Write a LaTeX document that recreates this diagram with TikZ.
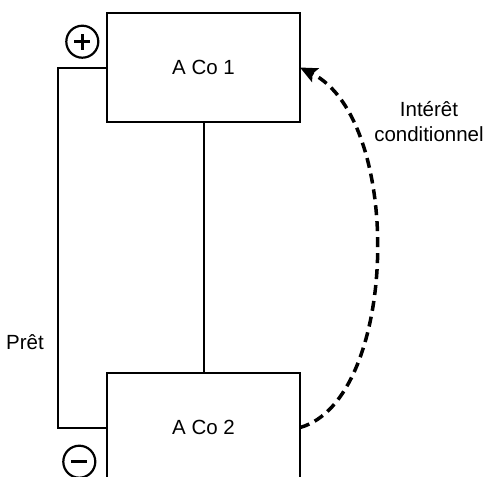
\documentclass[tikz,border=0pt]{standalone}
\usepackage{fontspec}
\setmainfont{Liberation Sans}
\usetikzlibrary{arrows.meta}
\begin{document}
\begin{tikzpicture}[x=1pt,y=-1pt,
  cobox/.style={draw, line width=2.5pt, minimum width=193pt, minimum height=109pt, inner sep=0pt, outer sep=0pt, font=\fontsize{20.5}{24}\selectfont},
  link/.style={line width=2pt},
  sign/.style={circle, draw, line width=2.2pt, minimum size=32pt, inner sep=0pt},
  lbl/.style={font=\fontsize{20.5}{25}\selectfont, align=center, inner sep=0pt},
  condarrow/.style={line width=3.5pt, dash pattern=on 10pt off 6pt, -{Stealth[length=17pt,width=15pt,inset=3pt]}}
]
\useasboundingbox (0,0) rectangle (488,477);
\clip (0,0) rectangle (488,477);
\node[cobox] (box1) at (203.5,67.5) {A Co 1};
\node[cobox] (box2) at (203.5,427.5) {A Co 2};
\draw[link] (box1.south) -- (box2.north);
\coordinate (loopl) at (58,67.5);
\draw[link] (box1.west) -- (loopl) |- (box2.west);
\draw[condarrow] (box2.east) .. controls (398,400) and (405,120) .. (box1.east);
\node[sign] (plus) at (82.3,41.7) {};
\draw[line width=2.5pt] ([xshift=-8pt]plus.center) -- ([xshift=8pt]plus.center);
\draw[line width=2.5pt] ([yshift=-8pt]plus.center) -- ([yshift=8pt]plus.center);
\node[sign] (minus) at (79.3,461.7) {};
\draw[line width=2.5pt] ([xshift=-8pt]minus.center) -- ([xshift=8pt]minus.center);
\node[lbl] (pret) at (25,342) {Prêt};
\node[lbl] (interet) at (429,122) {Intérêt\\conditionnel};
\end{tikzpicture}
\end{document}
